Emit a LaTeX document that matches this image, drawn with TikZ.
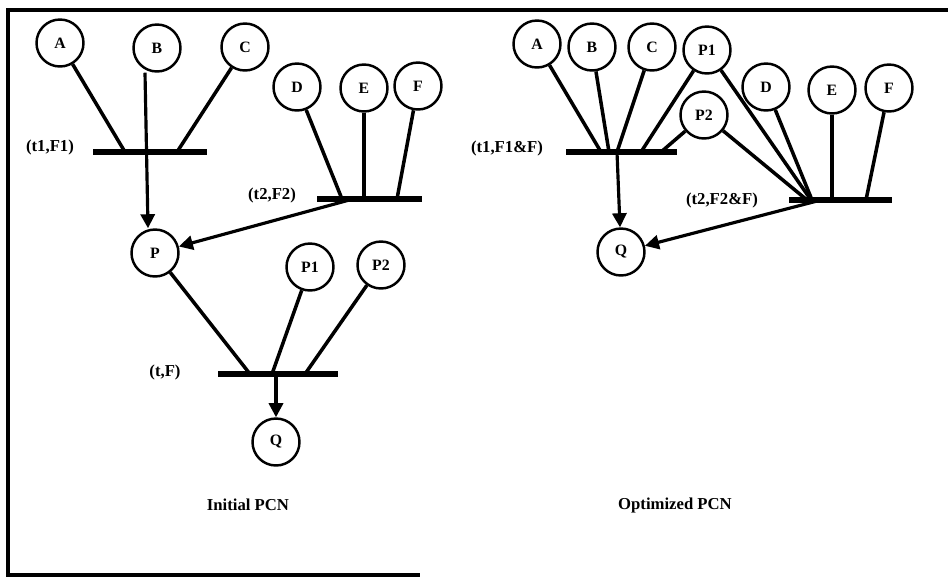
\documentclass[tikz,border=0pt]{standalone}
\usepackage{fontspec}
\setmainfont{Liberation Serif}
\usetikzlibrary{arrows.meta}
\tikzset{
  place/.style={circle, draw, line width=1.4pt, minimum size=0.94cm, inner sep=0pt, font=\fontsize{9}{10}\selectfont\bfseries},
  arc/.style={line width=2pt},
  flow/.style={line width=1.8pt, -{Triangle[length=8pt,width=8pt]}},
  bar/.style={line width=3.5pt},
  lbl/.style={font=\fontsize{9.5}{10}\selectfont\bfseries},
}
\begin{document}
\begin{tikzpicture}[x=0.02cm, y=-0.02cm]
  \useasboundingbox (0,0) rectangle (948,576);
  \draw[line width=2pt] (948,10) -- (8,10) -- (8,575) -- (420,575);

  % initial PCN
  \node[place] (A) at (60,43) {A};
  \node[place] (B) at (157,48) {B};
  \node[place] (C) at (245,47) {C};
  \node[place] (D) at (297,87) {D};
  \node[place] (E) at (364,88) {E};
  \node[place] (F) at (418,86) {F};
  \node[place] (P) at (155,253) {P};
  \node[place] (P1) at (310,267) {P1};
  \node[place] (P2) at (381,265) {P2};
  \node[place] (Q) at (276,442) {Q};

  \draw[bar] (93,152) -- (207,152); \node[lbl] (t1) at (50,147) {(t1,F1)};
  \draw[bar] (317,199) -- (422,199); \node[lbl] (t2) at (272,195) {(t2,F2)};
  \draw[bar] (218,374) -- (338,374); \node[lbl] (t) at (165,372) {(t,F)};
  \coordinate (t1a) at (125,152); \coordinate (t1c) at (177,152);
  \coordinate (t2d) at (342,199); \coordinate (t2e) at (364,199);
  \coordinate (t2f) at (397,199); \coordinate (t2o) at (353,199);
  \coordinate (tp) at (250,374); \coordinate (tp1) at (272,374);
  \coordinate (tp2) at (305,374); \coordinate (to) at (276,374);

  \foreach \p/\q in {A/t1a, C/t1c, D/t2d, E/t2e, F/t2f, P/tp, P1/tp1, P2/tp2}
    \draw[arc] (\p) -- (\q);
  \draw[flow] ([xshift=-0.24cm]B.south) -- ([xshift=-0.14cm]P.north);
  \draw[flow] (t2o) -- (P);
  \draw[flow] (to) -- (Q);
  \node[lbl] (init) at (248,505) {Initial PCN};

  % optimized PCN
  \node[place] (oA) at (537,44) {A};
  \node[place] (oB) at (592,47) {B};
  \node[place] (oC) at (652,47) {C};
  \node[place] (oP1) at (707,50) {P1};
  \node[place] (oP2) at (704,115) {P2};
  \node[place] (oD) at (766,87) {D};
  \node[place] (oE) at (832,90) {E};
  \node[place] (oF) at (889,88) {F};
  \node[place] (oQ) at (621,252) {Q};

  \draw[bar] (566,152) -- (677,152); \node[lbl] (ot1) at (507,148) {(t1,F1\&F)};
  \draw[bar] (789,200) -- (892,200); \node[lbl] (ot2) at (722,200) {(t2,F2\&F)};
  \coordinate (o1a) at (601,152); \coordinate (o1b) at (609,152);
  \coordinate (o1c) at (617,152); \coordinate (o1p) at (641,152);
  \coordinate (o1q) at (661,152); \coordinate (o1o) at (617,152);
  \coordinate (o2p) at (811,200); \coordinate (o2q) at (807,200);
  \coordinate (o2d) at (812,200); \coordinate (o2e) at (832,200);
  \coordinate (o2f) at (866,200); \coordinate (o2o) at (821,200);

  \foreach \p/\q in {oA/o1a, oB/o1b, oC/o1c, oP1/o1p, oP2/o1q,
                     oP1/o2p, oP2/o2q, oD/o2d, oE/o2e, oF/o2f}
    \draw[arc] (\p) -- (\q);
  \draw[flow] (o1o) -- (oQ);
  \draw[flow] (o2o) -- (oQ);
  \node[lbl] (opt) at (675,505) {Optimized PCN};
\end{tikzpicture}
\end{document}
